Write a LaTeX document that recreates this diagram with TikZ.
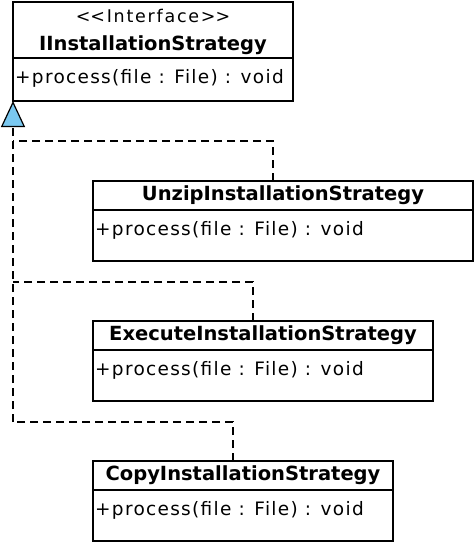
\documentclass[tikz,border=0pt]{standalone}
\usepackage{fontspec}
\setmainfont{DejaVu Sans}
\usetikzlibrary{positioning,arrows.meta}
\definecolor{tipblue}{RGB}{122,200,240}
\newcommand\umlname[1]{{\fontsize{19.5pt}{28pt}\selectfont\bfseries #1}}
\newcommand\umlstereo[1]{{\fontsize{17.5pt}{28pt}\selectfont\addfontfeature{LetterSpace=10}#1}}

\tikzset{
  umlfont/.style={font=\fontsize{17pt}{28pt}\selectfont},
  classhead/.style={draw, line width=1.2pt, inner sep=0pt, outer sep=0pt,
                    anchor=north west, minimum height=29pt, umlfont},
  classbody/.style={draw, line width=1.2pt, inner sep=0pt, outer sep=0pt,
                    minimum height=51pt, umlfont},
  opslabel/.style={anchor=north west, inner sep=0pt, xshift=2pt, yshift=-11pt,
                   font=\fontsize{18.5pt}{28pt}\selectfont\addfontfeature{LetterSpace=7}},
  realizes/.style={line width=1.2pt, dash pattern=on 8pt off 5pt}
}

\begin{document}
\begin{tikzpicture}[x=1pt,y=1pt]
  \useasboundingbox (0,0) rectangle (475,-542);

  % interface
  \node[classhead, minimum width=280pt, minimum height=56pt, align=center, text depth=0pt] (iface) at (13,-2)
       {\umlstereo{\textless\kern0pt\textless Interface\textgreater\kern0pt\textgreater}\\\umlname{IInstallationStrategy}};
  \node[classbody, minimum width=280pt, minimum height=43pt, below=0pt of iface,
        label={[opslabel]north west:{+process(file : File) : void}}] (ifaceops) {};

  % implementations
  \node[classhead, minimum width=380pt] (unzip) at (93,-181) {\umlname{UnzipInstallationStrategy}};
  \node[classbody, minimum width=380pt, below=0pt of unzip,
        label={[opslabel]north west:{+process(file : File) : void}}] (unzipops) {};

  \node[classhead, minimum width=340pt] (exec) at (93,-321) {\umlname{ExecuteInstallationStrategy}};
  \node[classbody, minimum width=340pt, below=0pt of exec,
        label={[opslabel]north west:{+process(file : File) : void}}] (execops) {};

  \node[classhead, minimum width=300pt] (copy) at (93,-461) {\umlname{CopyInstallationStrategy}};
  \node[classbody, minimum width=300pt, below=0pt of copy,
        label={[opslabel]north west:{+process(file : File) : void}}] (copyops) {};

  % realization
  \path (ifaceops.south west) ++(0,-40) coordinate (j1);
  \path (ifaceops.south west) ++(0,-181) coordinate (j2);
  \path (ifaceops.south west) ++(0,-321) coordinate (j3);

  \draw[realizes, -{Triangle[length=26pt, width=24pt, fill=tipblue]}] (j3) -- (ifaceops.south west);
  \draw[realizes] ([xshift=-10pt]unzip.north) |- (j1);
  \draw[realizes] ([xshift=-10pt]exec.north) |- (j2);
  \draw[realizes] ([xshift=-10pt]copy.north) |- (j3);
\end{tikzpicture}
\end{document}
